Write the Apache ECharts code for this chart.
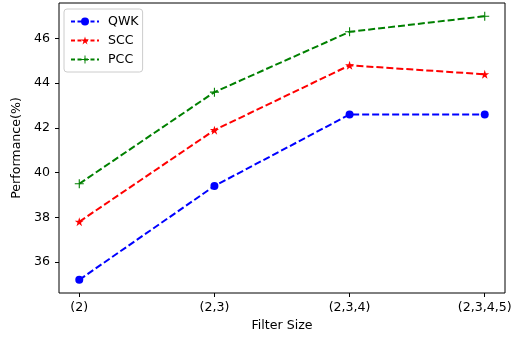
<!DOCTYPE html>
<html>
<head>
<meta charset="utf-8">
<script src="https://cdn.jsdelivr.net/npm/echarts@6/dist/echarts.min.js"></script>
<style>
  html, body { margin: 0; padding: 0; background: #fff; }
  #chart { width: 527px; height: 340px; }
</style>
</head>
<body>
<div id="chart"></div>
<script>
const categories = ["(2)", "(2,3)", "(2,3,4)", "(2,3,4,5)"];
const qwk = [35.2, 39.4, 42.6, 42.6];
const scc = [37.8, 41.9, 44.8, 44.4];
const pcc = [39.5, 43.6, 46.3, 47.0];
const yTicks = [36, 38, 40, 42, 44, 46];

const font = "DejaVu Sans";
const star = "path://M0,-1L0.2245,-0.309L0.9511,-0.309L0.3633,0.118L0.5878,0.809L0,0.382L-0.5878,0.809L-0.3633,0.118L-0.9511,-0.309L-0.2245,-0.309Z";
const plus = "path://M-0.12,-1L0.12,-1L0.12,-0.12L1,-0.12L1,0.12L0.12,0.12L0.12,1L-0.12,1L-0.12,0.12L-1,0.12L-1,-0.12L-0.12,-0.12Z";

const toPoints = (vals) => vals.map((v, i) => [i, v]);

function makeSeries(name, vals, color, symbol, size) {
  return {
    name: name,
    type: "line",
    data: toPoints(vals),
    symbol: symbol,
    symbolSize: size,
    showAllSymbol: true,
    color: color,
    itemStyle: { color: color, borderWidth: 0 },
    lineStyle: { color: color, width: 2, type: [7, 3] },
    emphasis: { disabled: true },
    animation: false,
  };
}

const chart = echarts.init(document.getElementById("chart"));

chart.setOption({
  animation: false,
  textStyle: { fontFamily: font },
  grid: {
    left: 59,
    top: 3,
    right: 22,
    bottom: 47,
    show: true,
    borderColor: "#000",
    borderWidth: 1,
  },
  legend: {
    left: 64,
    top: 9,
    orient: "vertical",
    itemWidth: 28,
    itemHeight: 10,
    itemGap: 4,
    padding: [5, 4, 5, 6],
    backgroundColor: "#fff",
    borderColor: "#cccccc",
    borderWidth: 1,
    borderRadius: 3,
    lineStyle: { width: 2, type: [4, 2.5] },
    textStyle: { fontFamily: font, fontSize: 12.6, color: "#000", padding: [0, 0, 0, 4], lineHeight: 15 },
    data: ["QWK", "SCC", "PCC"],
  },
  xAxis: {
    type: "value",
    min: -0.15,
    max: 3.15,
    name: "Filter Size",
    nameLocation: "middle",
    nameGap: 25,
    nameTextStyle: { fontFamily: font, fontSize: 12.6, color: "#000" },
    splitLine: { show: false },
    axisLine: { show: false, onZero: false },
    axisTick: { show: true, length: 4, customValues: [0, 1, 2, 3], lineStyle: { color: "#000" } },
    axisLabel: {
      customValues: [0, 1, 2, 3],
      margin: 8,
      fontFamily: font,
      fontSize: 12.6,
      color: "#000",
      formatter: (v) => categories[Math.round(v)],
    },
  },
  yAxis: {
    type: "value",
    min: 34.61,
    max: 47.59,
    name: "Performance(%)",
    nameLocation: "middle",
    nameGap: 25,
    nameTextStyle: { fontFamily: font, fontSize: 12.6, color: "#000" },
    splitLine: { show: false },
    axisLine: { show: false, onZero: false },
    axisTick: { show: true, length: 4, customValues: yTicks, lineStyle: { color: "#000" } },
    axisLabel: {
      customValues: yTicks,
      margin: 9,
      fontFamily: font,
      fontSize: 12.6,
      color: "#000",
    },
  },
  series: [
    makeSeries("QWK", qwk, "#0000ff", "circle", 8),
    makeSeries("SCC", scc, "#ff0000", star, 9),
    makeSeries("PCC", pcc, "#008000", plus, 9),
  ],
});

window.addEventListener("resize", () => chart.resize());
</script>
</body>
</html>
